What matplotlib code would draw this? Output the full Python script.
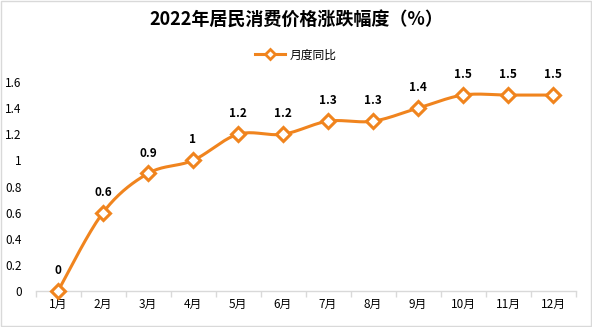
import matplotlib
matplotlib.use("Agg")
import matplotlib.pyplot as plt
import numpy as np

plt.rcParams['font.family'] = ['Noto Sans CJK SC', 'DejaVu Sans']

months = ['1月', '2月', '3月', '4月', '5月', '6月', '7月', '8月', '9月', '10月', '11月', '12月']
values = [0, 0.6, 0.9, 1, 1.2, 1.2, 1.3, 1.3, 1.4, 1.5, 1.5, 1.5]
labels = ['0', '0.6', '0.9', '1', '1.2', '1.2', '1.3', '1.3', '1.4', '1.5', '1.5', '1.5']

orange = '#F0841E'

x = np.arange(len(months))
y = np.array(values, dtype=float)


def smooth(xs, ys, n=20):
    # Catmull-Rom curve through the points (end points doubled, like Excel)
    px = np.concatenate([[xs[0]], xs, [xs[-1]]])
    py = np.concatenate([[ys[0]], ys, [ys[-1]]])
    outx, outy = [], []
    for i in range(1, len(px) - 2):
        t = np.linspace(0, 1, n, endpoint=False)
        for p, out in ((px, outx), (py, outy)):
            p0, p1, p2, p3 = p[i - 1], p[i], p[i + 1], p[i + 2]
            out.extend(0.5 * ((2 * p1) + (-p0 + p2) * t
                              + (2 * p0 - 5 * p1 + 4 * p2 - p3) * t ** 2
                              + (-p0 + 3 * p1 - 3 * p2 + p3) * t ** 3))
    outx.append(xs[-1])
    outy.append(ys[-1])
    return np.array(outx), np.array(outy)


fig = plt.figure(figsize=(5.92, 3.27), dpi=100)
ax = fig.add_axes([35.5 / 592, 36 / 327, 540 / 592, 209 / 327])

sx, sy = smooth(x.astype(float), y)
ax.plot(sx, sy, color=orange, lw=2.2, zorder=2, clip_on=False)
ax.plot(x, y, ls='none', marker='D', ms=7.5, mfc='white', mec=orange, mew=2.2, zorder=3,
        clip_on=False)
ax.plot([], [], color=orange, lw=2.2, marker='D', ms=5, mfc='white', mec=orange, mew=2, label='月度同比')

for xi, yi, t in zip(x, y, labels):
    ax.annotate(t, (xi, yi), xytext=(0, 10), textcoords='offset points',
                ha='center', va='bottom', fontsize=8.5, fontweight='bold', clip_on=False)

ax.set_xlim(-0.5, 11.5)
ax.set_ylim(0, 1.6)
ax.set_yticks(np.arange(0, 1.61, 0.2))
ax.set_yticklabels(['0', '0.2', '0.4', '0.6', '0.8', '1', '1.2', '1.4', '1.6'])
ax.set_xticks(x)
ax.set_xticklabels(months)
ax.set_xticks(np.arange(-0.5, 12, 1), minor=True)
ax.tick_params(axis='x', which='major', length=0, labelsize=8.5, pad=5)
ax.tick_params(axis='x', which='minor', length=4, color='#D9D9D9', width=1)
ax.tick_params(axis='y', length=0, labelsize=8.5, pad=10)
for s in ['top', 'right', 'left']:
    ax.spines[s].set_visible(False)
ax.spines['bottom'].set_color('#D9D9D9')
ax.spines['bottom'].set_linewidth(1)
ax.spines['bottom'].set_zorder(1)

fig.text(0.5, 1 - 20 / 327, '2022年居民消费价格涨跌幅度（%）', ha='center', va='center',
         fontsize=13, fontweight='bold')
fig.legend(loc='center', bbox_to_anchor=(0.5, 1 - 55 / 327), frameon=False, fontsize=8.5,
           handlelength=2.5, handletextpad=0.4)

fig.patches.append(plt.Rectangle((0.002, 0.003), 0.996, 0.994, transform=fig.transFigure,
                                 fill=False, edgecolor='#D9D9D9', lw=1))

fig.savefig('out.png', dpi=100)
